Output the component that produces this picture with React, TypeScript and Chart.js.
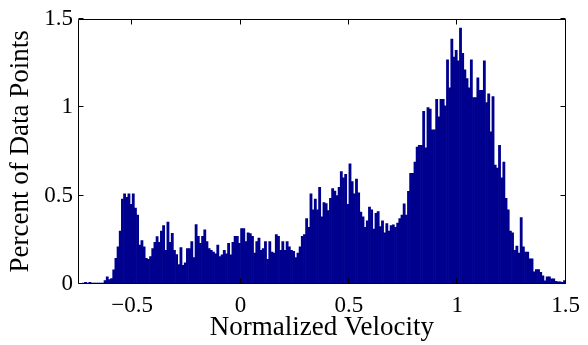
import React, { useEffect, useRef } from 'react';
import { Chart, registerables } from 'chart.js';

Chart.register(...registerables);

// Histogram bins: left edge of first bin and bin width (normalized velocity)
const BIN_START = -0.75;
const BIN_WIDTH = 0.01;

// Percent of data points per bin
const PERCENT_A = [
  0, 0, 0.005, 0.01, 0.005, 0.01, 0.005, 0.005, 0.005, 0.005,
  0.005, 0.005, 0.02, 0.04, 0.025, 0.03, 0.08, 0.145, 0.21, 0.3,
  0.48, 0.51, 0.49, 0.51, 0.45, 0.51, 0.43, 0.39, 0.22, 0.245,
  0.21, 0.145, 0.14, 0.155, 0.2, 0.236, 0.268, 0.236, 0.3, 0.33,
];
const PERCENT_B = [
  0.19, 0.35, 0.236, 0.286, 0.19, 0.167, 0.11, 0.206, 0.106, 0.12,
  0.2, 0.2, 0.24, 0.15, 0.336, 0.27, 0.23, 0.27, 0.306, 0.24,
  0.2, 0.19, 0.18, 0.17, 0.22, 0.155, 0.165, 0.19, 0.17, 0.23,
  0.165, 0.236, 0.27, 0.27, 0.23, 0.314, 0.314, 0.24, 0.29, 0.285,
  0.27,
];
const PERCENT_C = [
  0.175, 0.24, 0.26, 0.19, 0.2, 0.24, 0.14, 0.24, 0.18, 0.175,
  0.28, 0.27, 0.19, 0.24, 0.19, 0.24, 0.21, 0.19, 0.185, 0.15,
  0.175, 0.21, 0.27, 0.28, 0.37, 0.32, 0.51, 0.42, 0.48, 0.42,
  0.547, 0.38, 0.46, 0.455, 0.415, 0.485, 0.54, 0.525,
];
const PERCENT_D = [
  0.5, 0.547, 0.636, 0.6, 0.62, 0.45, 0.68, 0.58, 0.51, 0.593,
  0.515, 0.407, 0.38, 0.32, 0.357, 0.435, 0.42, 0.31, 0.4, 0.41,
  0.325, 0.357, 0.29, 0.342, 0.3, 0.33, 0.335, 0.32, 0.345, 0.37,
  0.39, 0.453, 0.39, 0.524, 0.626, 0.626, 0.69, 0.775,
];
const PERCENT_E = [
  0.785, 0.785, 0.976, 0.77, 0.998, 0.99, 0.872, 0.872, 1.045, 0.946,
  1.045, 1.045, 1.008, 1.268, 1.11, 1.385, 1.283, 1.322, 1.262, 1.448,
  1.305, 1.212, 1.162, 1.11, 1.268, 1.054, 1.054, 1.166, 1.095, 1.095,
  1.262, 1.026, 1.076,
];
const PERCENT_F = [
  0.86, 1.06, 0.672, 0.655, 0.785, 0.6, 0.69, 0.485, 0.42, 0.3,
  0.29, 0.19, 0.214, 0.175, 0.375, 0.21, 0.18, 0.18, 0.143, 0.143,
  0.069, 0.082, 0.082, 0.066, 0.046, 0.018, 0.04, 0.04, 0.029, 0.029,
  0.015, 0.012, 0.012, 0.01, 0.02,
];

const X_LIMITS = [-0.75, 1.5];
const Y_LIMITS = [0, 1.5];
const X_TICKS = [-0.5, 0, 0.5, 1, 1.5];
const Y_TICKS = [0, 0.5, 1, 1.5];
const X_TITLE = 'Normalized Velocity';
const Y_TITLE = 'Percent of Data Points';

const BAR_COLOR = '#00008F';
const FONT = '"Liberation Serif", "Times New Roman", serif';

function fmt(v: number): string {
  const s = String(Math.abs(v));
  return v < 0 ? '\u2212' + s : s;
}

const boxPlugin = {
  id: 'matlabBox',
  afterDraw(chart: any) {
    const { ctx, chartArea: a, scales } = chart;
    const L = Math.round(a.left) + 0.5;
    const R = Math.round(a.right) - 0.5;
    const T = Math.round(a.top) + 0.5;
    const B = Math.round(a.bottom) - 0.5;
    const tl = 5;
    ctx.save();
    ctx.strokeStyle = '#000';
    ctx.lineWidth = 1;
    ctx.beginPath();
    ctx.rect(L, T, R - L, B - T);
    for (const v of X_TICKS) {
      const px = Math.round(scales.x.getPixelForValue(v)) - 0.5;
      ctx.moveTo(px, B);
      ctx.lineTo(px, B - tl);
      ctx.moveTo(px, T);
      ctx.lineTo(px, T + tl);
    }
    for (const v of Y_TICKS) {
      const py = Math.round(scales.y.getPixelForValue(v)) - 0.5;
      ctx.moveTo(L, py);
      ctx.lineTo(L + tl, py);
      ctx.moveTo(R, py);
      ctx.lineTo(R - tl, py);
    }
    ctx.stroke();
    ctx.restore();
  },
};

export default function App() {
  const ref = useRef<HTMLCanvasElement | null>(null);

  useEffect(() => {
    if (!ref.current) return;
    const values = [...PERCENT_A, ...PERCENT_B, ...PERCENT_C, ...PERCENT_D, ...PERCENT_E, ...PERCENT_F];
    const data = values.map((y, i) => ({ x: BIN_START + BIN_WIDTH * (i + 0.5), y }));

    const chart = new Chart(ref.current, {
      type: 'bar',
      data: {
        datasets: [
          {
            data,
            backgroundColor: BAR_COLOR,
            borderWidth: 0,
            barPercentage: 1,
            categoryPercentage: 1,
          },
        ],
      },
      plugins: [boxPlugin],
      options: {
        animation: false,
        responsive: false,
        devicePixelRatio: 1,
        events: [],
        layout: { padding: { top: 15, right: 17, left: 0, bottom: 0 } },
        plugins: { legend: { display: false }, tooltip: { enabled: false }, title: { display: false } },
        scales: {
          x: {
            type: 'linear',
            offset: false,
            min: X_LIMITS[0],
            max: X_LIMITS[1],
            grid: { display: false, drawTicks: false },
            border: { display: false },
            afterBuildTicks: (s: any) => {
              s.ticks = X_TICKS.map((v) => ({ value: v }));
            },
            afterFit: (s: any) => {
              s.height = 61;
            },
            ticks: {
              autoSkip: false,
              maxRotation: 0,
              padding: 8,
              color: '#000',
              font: { family: FONT, size: 23 },
              callback: (v: any) => fmt(Number(v)),
            },
            title: {
              display: true,
              text: X_TITLE,
              color: '#000',
              font: { family: FONT, size: 27 },
              padding: { top: 0, bottom: 1 },
            },
          },
          y: {
            type: 'linear',
            min: Y_LIMITS[0],
            max: Y_LIMITS[1],
            grid: { display: false, drawTicks: false },
            border: { display: false },
            afterBuildTicks: (s: any) => {
              s.ticks = Y_TICKS.map((v) => ({ value: v }));
            },
            afterFit: (s: any) => {
              s.width = 78;
            },
            ticks: {
              autoSkip: false,
              padding: 5,
              color: '#000',
              font: { family: FONT, size: 23 },
              callback: (v: any) => fmt(Number(v)),
            },
            title: {
              display: true,
              text: Y_TITLE,
              color: '#000',
              font: { family: FONT, size: 27 },
              padding: { top: 5, bottom: 0 },
            },
          },
        },
      },
    } as any);

    return () => chart.destroy();
  }, []);

  return (
    <div style={{ position: 'absolute', left: 0, top: 0, width: 588, height: 345, background: '#fff' }}>
      <canvas ref={ref} width={588} height={345} style={{ display: 'block', width: 588, height: 345 }} />
    </div>
  );
}
